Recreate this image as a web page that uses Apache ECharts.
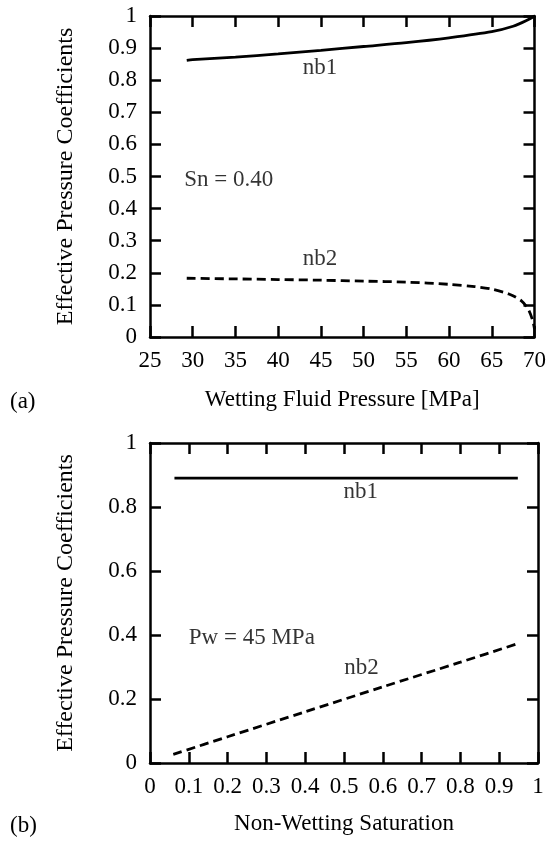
<!DOCTYPE html>
<html>
<head>
<meta charset="utf-8">
<script src="https://cdn.jsdelivr.net/npm/echarts@6/dist/echarts.min.js"></script>
<style>
  html, body { margin: 0; padding: 0; background: #fff; }
  #chart { width: 549px; height: 842px; }
</style>
</head>
<body>
<div id="chart"></div>
<script>
// (a) wetting fluid pressure [MPa] vs coefficients, Sn = 0.40
var nb1A = [[29.3,0.862],[30,0.864],[35,0.872],[40,0.882],[45,0.893],[50,0.905],[55,0.917],[60,0.932],[65,0.951],[67.5,0.968],[69,0.985],[70,1.0]];
var nb2A = [[29.3,0.183],[35,0.181],[40,0.179],[45,0.177],[50,0.174],[55,0.171],[60,0.164],[63,0.157],[65,0.149],[67,0.134],[68.5,0.112],[69.3,0.085],[69.8,0.05],[70,0.025]];
// (b) non-wetting saturation vs coefficients, Pw = 45 MPa
var nb1B = [[0.063,0.89],[0.3,0.89],[0.6,0.89],[0.948,0.89]];
var nb2B = [[0.06,0.027],[0.2,0.082],[0.4,0.16],[0.6,0.238],[0.8,0.315],[0.95,0.374]];
// text notes placed in data units
var notesA = [{value:[44.9,0.838], name:'nb1'}, {value:[29,0.49], name:'Sn = 0.40', left:true}, {value:[44.9,0.242], name:'nb2'}];
var notesB = [{value:[0.543,0.847], name:'nb1'}, {value:[0.1,0.39], name:'Pw = 45 MPa', left:true}, {value:[0.545,0.297], name:'nb2'}];

var font = '"Liberation Serif", "Times New Roman", serif';
var black = '#000';

var chart = echarts.init(document.getElementById('chart'));

function xAx(grid, min, max, step, pos, title, gap){
  return {
    type:'value', gridIndex:grid, min:min, max:max, interval:step, position:pos,
    axisLine:{show:true, onZero:false, lineStyle:{color:black, width:2.5}},
    axisTick:{show:true, inside:true, length:11, lineStyle:{color:black, width:2.5}},
    axisLabel:{show:pos==='bottom', color:black, fontSize:23, fontFamily:font, margin:12},
    splitLine:{show:false},
    name:title, nameLocation:'middle', nameGap:gap,
    nameTextStyle:{color:black, fontSize:23, fontFamily:font}
  };
}
function yAx(grid, step, pos, title){
  return {
    type:'value', gridIndex:grid, min:0, max:1, interval:step, position:pos,
    axisLine:{show:true, onZero:false, lineStyle:{color:black, width:2.5}},
    axisTick:{show:true, inside:true, length:11, lineStyle:{color:black, width:2.5}},
    axisLabel:{show:pos==='left', color:black, fontSize:23, fontFamily:font, margin:13},
    splitLine:{show:false},
    name:title, nameLocation:'middle', nameGap:72,
    nameTextStyle:{color:black, fontSize:24, fontFamily:font}
  };
}
function noteSeries(xi, yi, notes){
  return {
    type:'scatter', xAxisIndex:xi, yAxisIndex:yi, symbolSize:0, silent:true,
    data:notes.map(function(n){
      return {value:n.value, name:n.name, label:{align: n.left ? 'left' : 'center'}};
    }),
    label:{show:true, position:'inside', formatter:'{b}', color:black, fontSize:23, fontFamily:font}
  };
}
function lineSeries(xi, yi, data, dashed){
  return {
    type:'line', xAxisIndex:xi, yAxisIndex:yi, data:data, showSymbol:false, smooth:0.3,
    lineStyle:{color:black, width:2.8, type: dashed ? [9,5] : 'solid'}
  };
}

var option = {
  animation:false,
  backgroundColor:'#fff',
  grid:[
    {left:150, top:16, width:388, height:321},
    {left:150, top:443, width:388, height:320}
  ],
  xAxis:[
    xAx(0, 25, 70, 5, 'bottom', 'Wetting Fluid Pressure [MPa]', 51),
    xAx(0, 25, 70, 5, 'top', '', 0),
    xAx(1, 0, 1, 0.1, 'bottom', 'Non-Wetting Saturation', 49),
    xAx(1, 0, 1, 0.1, 'top', '', 0)
  ],
  yAxis:[
    yAx(0, 0.1, 'left', 'Effective Pressure Coefficients'),
    yAx(0, 0.1, 'right', ''),
    yAx(1, 0.2, 'left', 'Effective Pressure Coefficients'),
    yAx(1, 0.2, 'right', '')
  ],
  graphic:[
    {type:'text', left:10, top:390, style:{text:'(a)', fill:black, font:'23px ' + font}},
    {type:'text', left:10, top:814, style:{text:'(b)', fill:black, font:'23px ' + font}}
  ],
  series:[
    lineSeries(0, 0, nb1A, false),
    lineSeries(0, 0, nb2A, true),
    lineSeries(2, 2, nb1B, false),
    lineSeries(2, 2, nb2B, true),
    noteSeries(0, 0, notesA),
    noteSeries(2, 2, notesB)
  ]
};
chart.setOption(option);
</script>
</body>
</html>
